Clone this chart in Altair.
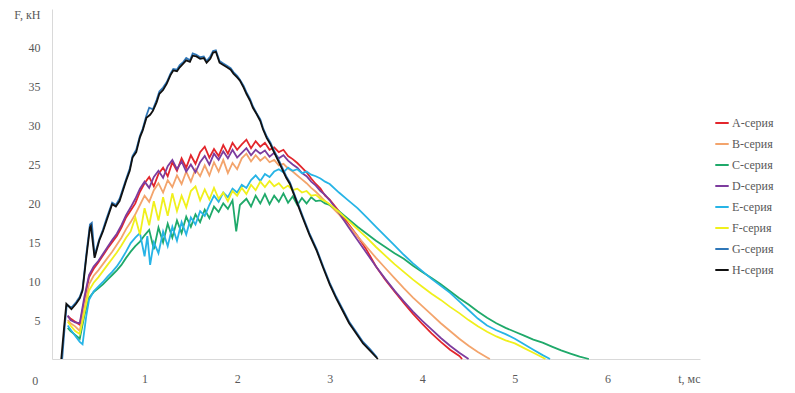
import altair as alt
import pandas as pd

series_names = ["A-серия", "B-серия", "C-серия", "D-серия", "E-серия", "F-серия", "G-серия", "H-серия"]
series_colors = ["#e3262c", "#f3a46c", "#1fa96a", "#7d3c9e", "#27b4e6", "#f0f01c", "#2f77b8", "#111111"]

# A (red)
a_t = [0.17, 0.20, 0.25, 0.30, 0.35, 0.40, 0.45, 0.50, 0.55, 0.60, 0.65, 0.70, 0.75, 0.80, 0.85, 0.90, 0.95, 1.00, 1.05, 1.10, 1.15, 1.20, 1.25, 1.30, 1.35, 1.40, 1.45, 1.50, 1.55, 1.60, 1.65, 1.70, 1.75, 1.80, 1.85, 1.90, 1.95, 2.00, 2.05, 2.10, 2.15, 2.20, 2.25, 2.30, 2.35, 2.40, 2.45, 2.50, 2.55, 2.60, 2.65, 2.70, 2.75, 2.80, 2.85, 2.90, 2.95, 3.00, 3.10, 3.20, 3.30, 3.40, 3.50, 3.60, 3.70, 3.80, 3.90, 4.00, 4.10, 4.20, 4.30, 4.40, 4.43]
a_f = [5.5, 5.2, 4.8, 4.4, 7.5, 10.5, 11.6, 12.4, 13.3, 14.2, 15.0, 15.8, 16.9, 18.2, 19.1, 20.0, 21.5, 22.6, 23.4, 22.2, 23.8, 24.6, 23.5, 25.3, 24.2, 25.8, 24.6, 26.2, 25.1, 26.6, 27.3, 25.9, 27.0, 26.1, 27.5, 26.4, 27.8, 26.9, 27.6, 28.2, 27.1, 28.0, 27.3, 27.8, 26.9, 27.2, 26.6, 26.9, 26.1, 25.7, 25.2, 24.6, 24.0, 23.2, 22.5, 21.9, 21.0, 20.5, 19.0, 17.4, 15.8, 14.0, 11.9, 10.2, 8.7, 7.2, 5.8, 4.5, 3.3, 2.2, 1.2, 0.4, 0.0]

# B (orange)
b_t = [0.17, 0.20, 0.25, 0.30, 0.35, 0.40, 0.45, 0.50, 0.55, 0.60, 0.65, 0.70, 0.75, 0.80, 0.85, 0.90, 0.95, 1.00, 1.05, 1.10, 1.15, 1.20, 1.25, 1.30, 1.35, 1.40, 1.45, 1.50, 1.55, 1.60, 1.65, 1.70, 1.75, 1.80, 1.85, 1.90, 1.95, 2.00, 2.05, 2.10, 2.15, 2.20, 2.25, 2.30, 2.35, 2.40, 2.45, 2.50, 2.55, 2.60, 2.65, 2.70, 2.75, 2.80, 2.85, 2.90, 2.95, 3.00, 3.10, 3.20, 3.30, 3.40, 3.50, 3.60, 3.70, 3.80, 3.90, 4.00, 4.10, 4.20, 4.30, 4.40, 4.50, 4.60, 4.70, 4.73]
b_f = [5.0, 4.6, 4.2, 3.6, 6.8, 9.6, 10.7, 11.4, 12.2, 13.0, 13.8, 14.7, 15.6, 16.7, 17.6, 18.6, 19.8, 21.0, 20.2, 21.7, 22.6, 21.4, 23.0, 22.1, 23.6, 22.5, 24.1, 22.8, 24.4, 23.5, 24.9, 23.6, 25.3, 24.1, 25.6, 23.9, 25.2, 24.4, 25.8, 26.4, 25.4, 26.2, 25.5, 26.0, 25.3, 25.6, 24.9, 25.1, 24.5, 24.1, 23.6, 23.1, 22.6, 22.0, 21.5, 20.9, 20.3, 19.8, 18.6, 17.2, 15.8, 14.4, 13.0, 11.7, 10.4, 9.1, 7.9, 6.8, 5.7, 4.6, 3.6, 2.6, 1.7, 0.9, 0.2, 0.0]

# C (green)
c_t = [0.17, 0.20, 0.25, 0.30, 0.35, 0.40, 0.45, 0.50, 0.55, 0.60, 0.65, 0.70, 0.75, 0.80, 0.85, 0.90, 0.95, 1.00, 1.05, 1.10, 1.15, 1.20, 1.25, 1.30, 1.35, 1.40, 1.45, 1.50, 1.55, 1.60, 1.65, 1.70, 1.75, 1.80, 1.85, 1.90, 1.95, 1.99, 2.03, 2.10, 2.15, 2.20, 2.25, 2.30, 2.35, 2.40, 2.45, 2.50, 2.55, 2.60, 2.65, 2.70, 2.75, 2.80, 2.85, 2.90, 2.95, 3.00, 3.10, 3.20, 3.30, 3.40, 3.50, 3.60, 3.70, 3.80, 3.90, 4.00, 4.10, 4.20, 4.30, 4.40, 4.50, 4.60, 4.70, 4.80, 4.90, 5.00, 5.10, 5.20, 5.30, 5.40, 5.50, 5.60, 5.70, 5.80]
c_f = [4.0, 3.6, 3.1, 2.6, 5.6, 7.9, 8.6, 9.1, 9.6, 10.2, 10.8, 11.4, 12.1, 13.0, 13.8, 14.5, 15.1, 15.9, 16.6, 14.1, 16.9, 15.0, 17.4, 15.6, 17.8, 16.2, 18.3, 17.0, 18.6, 17.6, 19.2, 18.1, 19.6, 18.9, 20.0, 19.3, 20.4, 16.4, 19.8, 20.6, 19.6, 21.0, 20.0, 21.2, 19.9, 21.0, 20.2, 21.3, 20.1, 20.9, 19.8, 20.7, 20.0, 20.8, 20.3, 20.4, 20.0, 19.8, 19.0, 18.0, 17.0, 16.1, 15.2, 14.4, 13.6, 12.9, 12.0, 11.2, 10.4, 9.6, 8.7, 7.8, 7.0, 6.1, 5.3, 4.6, 4.0, 3.5, 3.0, 2.5, 2.1, 1.6, 1.1, 0.7, 0.3, 0.0]

# D (purple)
d_t = [0.17, 0.20, 0.25, 0.30, 0.35, 0.40, 0.45, 0.50, 0.55, 0.60, 0.65, 0.70, 0.75, 0.80, 0.85, 0.90, 0.95, 1.00, 1.05, 1.10, 1.15, 1.20, 1.25, 1.30, 1.35, 1.40, 1.45, 1.50, 1.55, 1.60, 1.65, 1.70, 1.75, 1.80, 1.85, 1.90, 1.95, 2.00, 2.05, 2.10, 2.15, 2.20, 2.25, 2.30, 2.35, 2.40, 2.45, 2.50, 2.55, 2.60, 2.65, 2.70, 2.75, 2.80, 2.85, 2.90, 2.95, 3.00, 3.10, 3.20, 3.30, 3.40, 3.50, 3.60, 3.70, 3.80, 3.90, 4.00, 4.10, 4.20, 4.30, 4.40, 4.50]
d_f = [5.6, 5.0, 4.7, 4.6, 8.0, 10.8, 11.9, 12.6, 13.5, 14.4, 15.3, 16.1, 17.2, 18.5, 19.5, 20.6, 21.9, 22.8, 22.0, 23.4, 24.2, 23.3, 24.8, 25.6, 24.4, 25.4, 24.1, 25.0, 24.0, 25.3, 26.1, 25.0, 26.4, 25.6, 26.7, 25.8, 26.9, 25.9, 26.5, 27.1, 26.2, 26.9, 26.4, 26.8, 26.0, 26.5, 25.8, 26.2, 25.5, 25.0, 24.6, 23.9, 23.5, 22.8, 22.3, 21.6, 21.1, 20.4, 18.8, 17.0, 15.3, 13.6, 11.9, 10.3, 8.8, 7.4, 6.1, 4.9, 3.8, 2.7, 1.7, 0.8, 0.0]

# E (cyan)
e_t = [0.17, 0.20, 0.25, 0.30, 0.33, 0.37, 0.40, 0.45, 0.50, 0.55, 0.60, 0.65, 0.70, 0.75, 0.80, 0.85, 0.90, 0.95, 1.00, 1.03, 1.06, 1.10, 1.15, 1.20, 1.25, 1.30, 1.35, 1.40, 1.45, 1.50, 1.55, 1.60, 1.65, 1.70, 1.75, 1.80, 1.85, 1.90, 1.95, 2.00, 2.05, 2.10, 2.15, 2.20, 2.25, 2.30, 2.35, 2.40, 2.45, 2.50, 2.55, 2.60, 2.65, 2.70, 2.75, 2.80, 2.85, 2.90, 2.95, 3.00, 3.10, 3.20, 3.30, 3.40, 3.50, 3.60, 3.70, 3.80, 3.90, 4.00, 4.10, 4.20, 4.30, 4.40, 4.50, 4.60, 4.70, 4.80, 4.90, 5.00, 5.10, 5.20, 5.30, 5.38]
e_f = [4.3, 3.8, 3.0, 2.2, 1.9, 5.5, 7.6, 8.7, 9.3, 9.9, 10.6, 11.2, 11.9, 12.8, 13.8, 14.9, 15.6, 16.2, 13.2, 15.8, 12.1, 15.0, 13.6, 16.4, 14.5, 17.0, 15.2, 17.6, 16.0, 18.2, 17.3, 19.0, 18.4, 19.8, 21.0, 20.2, 21.4, 20.8, 21.9, 21.4, 22.4, 22.0, 23.0, 23.6, 22.9, 23.8, 23.4, 24.1, 24.4, 24.0, 24.6, 24.2, 24.4, 23.9, 24.1, 23.7, 23.5, 23.2, 22.8, 22.5, 21.4, 20.4, 19.4, 18.2, 17.0, 15.8, 14.6, 13.4, 12.3, 11.3, 10.3, 9.4, 8.5, 7.4, 6.3, 5.2, 4.3, 3.7, 3.2, 2.6, 1.9, 1.2, 0.5, 0.0]

# F (yellow)
f_t = [0.17, 0.20, 0.25, 0.30, 0.35, 0.40, 0.45, 0.50, 0.55, 0.60, 0.65, 0.70, 0.75, 0.80, 0.85, 0.90, 0.95, 1.00, 1.05, 1.10, 1.15, 1.20, 1.25, 1.30, 1.35, 1.40, 1.45, 1.50, 1.55, 1.60, 1.65, 1.70, 1.75, 1.80, 1.85, 1.90, 1.95, 2.00, 2.05, 2.10, 2.15, 2.20, 2.25, 2.30, 2.35, 2.40, 2.45, 2.50, 2.55, 2.60, 2.65, 2.70, 2.75, 2.80, 2.85, 2.90, 2.95, 3.00, 3.10, 3.20, 3.30, 3.40, 3.50, 3.60, 3.70, 3.80, 3.90, 4.00, 4.10, 4.20, 4.30, 4.40, 4.50, 4.60, 4.70, 4.80, 4.90, 5.00, 5.10, 5.20, 5.30, 5.33]
f_f = [4.8, 4.3, 3.6, 3.2, 6.0, 8.8, 9.8, 10.5, 11.3, 12.1, 12.9, 13.7, 14.6, 15.6, 16.4, 18.2, 16.0, 19.4, 17.2, 20.3, 17.8, 20.8, 18.4, 21.3, 19.0, 21.0, 19.5, 21.6, 22.2, 20.4, 21.8, 20.5, 22.0, 20.6, 21.4, 20.3, 21.6, 21.0, 22.0, 21.2, 22.4, 21.7, 22.8, 22.1, 22.9, 22.2, 22.6, 21.9, 22.3, 21.7, 21.9, 21.4, 21.6, 21.0, 21.1, 20.6, 20.3, 19.9, 18.9, 17.8, 16.7, 15.6, 14.4, 13.3, 12.2, 11.2, 10.2, 9.3, 8.4, 7.6, 6.7, 5.9, 5.0, 4.2, 3.5, 2.9, 2.4, 2.0, 1.4, 0.8, 0.2, 0.0]

# G (blue)
g_t = [0.11, 0.14, 0.16, 0.21, 0.26, 0.30, 0.33, 0.37, 0.41, 0.43, 0.46, 0.51, 0.55, 0.59, 0.65, 0.69, 0.73, 0.80, 0.84, 0.87, 0.91, 0.95, 0.98, 1.02, 1.05, 1.09, 1.13, 1.16, 1.20, 1.24, 1.28, 1.31, 1.35, 1.38, 1.42, 1.45, 1.49, 1.52, 1.56, 1.60, 1.64, 1.67, 1.71, 1.74, 1.77, 1.81, 1.85, 1.89, 1.93, 1.96, 2.00, 2.03, 2.07, 2.10, 2.14, 2.17, 2.21, 2.25, 2.28, 2.32, 2.36, 2.39, 2.46, 2.53, 2.57, 2.64, 2.71, 2.78, 2.86, 2.93, 3.00, 3.07, 3.14, 3.21, 3.29, 3.36, 3.44, 3.51]
g_f = [0.0, 4.6, 7.0, 6.6, 7.3, 8.0, 9.0, 13.4, 17.3, 17.5, 13.3, 15.4, 16.6, 18.1, 20.1, 19.8, 20.6, 23.1, 24.5, 26.1, 26.9, 28.7, 29.6, 31.3, 32.3, 32.1, 33.3, 34.4, 34.9, 35.6, 36.7, 37.3, 37.2, 37.8, 38.2, 38.7, 38.4, 39.3, 39.1, 38.8, 38.9, 38.3, 38.9, 39.6, 39.7, 38.3, 38.0, 37.7, 37.4, 36.9, 36.4, 35.9, 35.1, 34.3, 33.4, 32.5, 31.6, 30.8, 29.7, 28.6, 27.8, 27.0, 25.3, 23.5, 22.7, 20.5, 18.3, 16.2, 14.1, 11.9, 9.8, 8.0, 6.4, 4.8, 3.4, 2.2, 1.2, 0.2]

# H (black)
h_t = [0.10, 0.13, 0.155, 0.21, 0.26, 0.30, 0.33, 0.37, 0.41, 0.42, 0.46, 0.51, 0.55, 0.59, 0.65, 0.69, 0.73, 0.80, 0.84, 0.87, 0.91, 0.95, 0.98, 1.02, 1.06, 1.09, 1.13, 1.16, 1.20, 1.24, 1.28, 1.31, 1.35, 1.38, 1.42, 1.45, 1.49, 1.52, 1.56, 1.60, 1.64, 1.67, 1.71, 1.74, 1.77, 1.81, 1.85, 1.89, 1.93, 1.96, 2.00, 2.03, 2.07, 2.10, 2.14, 2.17, 2.21, 2.25, 2.28, 2.32, 2.36, 2.39, 2.46, 2.53, 2.57, 2.64, 2.71, 2.78, 2.86, 2.93, 3.00, 3.07, 3.14, 3.21, 3.29, 3.36, 3.44, 3.52]
h_f = [0.0, 4.0, 7.1, 6.4, 7.1, 7.8, 8.8, 13.0, 16.9, 17.1, 13.0, 15.2, 16.4, 17.8, 19.9, 19.6, 20.3, 22.9, 24.2, 25.9, 26.6, 28.5, 29.4, 31.0, 31.4, 31.9, 33.0, 34.1, 34.6, 35.4, 36.5, 37.1, 37.0, 37.5, 38.0, 38.4, 38.2, 39.0, 38.9, 38.6, 38.7, 38.1, 38.6, 39.4, 39.5, 38.1, 37.8, 37.5, 37.2, 36.7, 36.2, 35.8, 34.9, 34.1, 33.2, 32.3, 31.5, 30.6, 29.5, 28.4, 27.6, 26.8, 25.1, 23.3, 22.5, 20.3, 18.1, 16.0, 13.9, 11.7, 9.6, 7.8, 6.2, 4.6, 3.2, 2.0, 1.0, 0.0]

x_ticks = [0, 1, 2, 3, 4, 5, 6, 7]
y_ticks = [0, 5, 10, 15, 20, 25, 30, 35, 40, 45]
origin_label = ["0"]

all_t = [a_t, b_t, c_t, d_t, e_t, f_t, g_t, h_t]
all_f = [a_f, b_f, c_f, d_f, e_f, f_f, g_f, h_f]
rows = []
for name, ts, fs in zip(series_names, all_t, all_f):
    for t, f in zip(ts, fs):
        rows.append({"series": name, "t": t, "F": f})
df = pd.DataFrame(rows)

FONT = "Liberation Serif, Times New Roman, DejaVu Serif, serif"
W, H = 648, 350

lines = alt.Chart(df).mark_line(strokeWidth=1.8).encode(
    x=alt.X("t:Q", scale=alt.Scale(domain=[0, 7], nice=False),
            axis=alt.Axis(values=x_ticks, title=None, grid=False, ticks=False, format="d",
                          domainColor="#d9d9d9", labelColor="#595959",
                          labelFont=FONT, labelFontSize=12, labelPadding=14,
                          labelExpr="datum.value == 7 ? 't, мс' : datum.value == 0 ? '' : datum.label")),
    y=alt.Y("F:Q", scale=alt.Scale(domain=[0, 45], nice=False),
            axis=alt.Axis(values=y_ticks, title=None, grid=False, ticks=False, format="d",
                          domainColor="#d9d9d9", labelColor="#595959",
                          labelFont=FONT, labelFontSize=12, labelPadding=12,
                          labelBaseline=alt.expr("datum.value == 45 ? 'top' : 'middle'"),
                          labelExpr="datum.value == 45 ? 'F, кН' : datum.value == 0 ? '' : datum.label")),
    color=alt.Color("series:N", sort=series_names,
                    scale=alt.Scale(domain=series_names, range=series_colors),
                    legend=alt.Legend(title=None, orient="none", legendX=662, legendY=106,
                                      symbolType="stroke", symbolSize=180, symbolStrokeWidth=2,
                                      labelFont=FONT, labelFontSize=12, labelColor="#595959",
                                      rowPadding=7, labelOffset=2)),
    order=alt.Order("t:Q"),
)

origin = alt.Chart(pd.DataFrame({"lab": origin_label})).mark_text(
    font=FONT, fontSize=12, color="#595959", clip=False
).encode(
    x=alt.datum(-0.18),
    y=alt.value(H + 22),
    text="lab:N",
)

chart = alt.layer(lines, origin).properties(
    width=W, height=H,
    padding={"left": 5, "top": 0, "right": 5, "bottom": 5},
).configure_view(stroke=None)

chart.save("out.html", embed_options={"renderer": "svg", "actions": False})
